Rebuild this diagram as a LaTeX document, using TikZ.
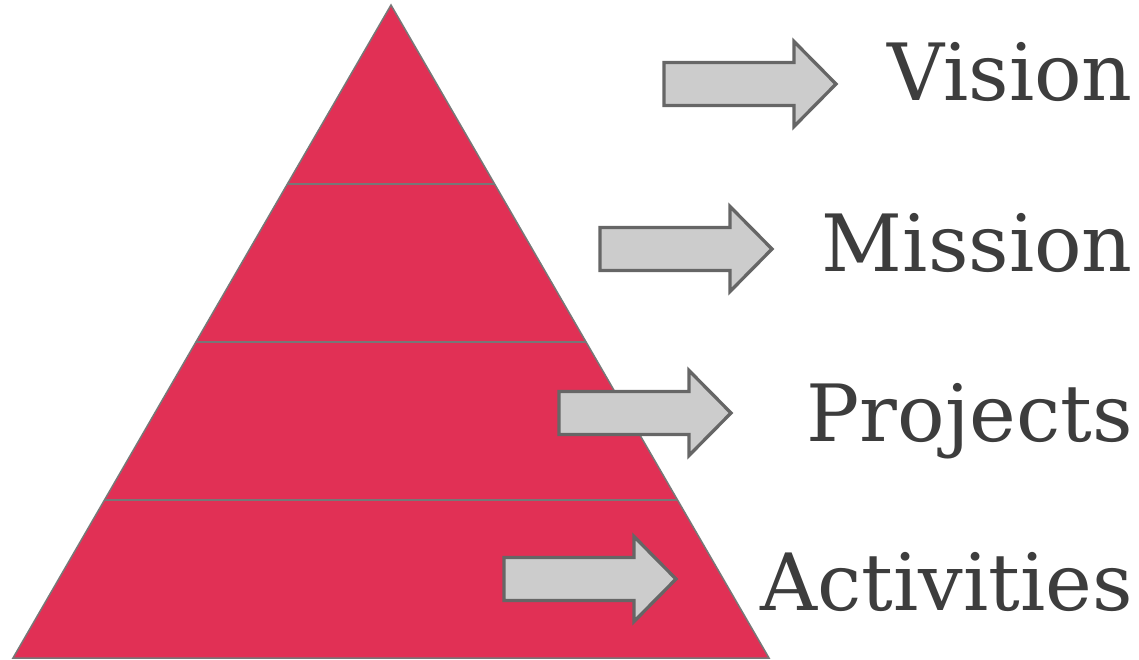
\documentclass[tikz,border=0pt]{standalone}
\usepackage{fontspec}
\setmainfont{DejaVu Serif}
\usetikzlibrary{calc}

\definecolor{pyramidred}{HTML}{E13055}
\definecolor{edgegray}{HTML}{777777}
\definecolor{arrowfill}{HTML}{CCCCCC}
\definecolor{arrowline}{HTML}{666666}
\definecolor{textgray}{HTML}{3D3D3D}

\tikzset{
  tierline/.style={draw=edgegray, line width=1.5pt},
  tierlabel/.style={anchor=base east, inner sep=0pt, text=textgray,
    font=\fontsize{79}{90}\selectfont},
  grayarrow/.pic={
    \draw[fill=arrowfill, draw=arrowline, line width=3.3pt, line join=miter]
      (0,-21.5) -- (130,-21.5) -- (130,-42.5) -- (172,0)
      -- (130,42.5) -- (130,21.5) -- (0,21.5) -- cycle;
  }
}

\begin{document}
\begin{tikzpicture}[x=1pt, y=-1pt]
    \useasboundingbox (0,0) rectangle (1139,660);

    % pyramid
    \coordinate (apex) at (391,5);
    \coordinate (bl) at (13,658);
    \coordinate (br) at (769,658);
    \fill[pyramidred] (apex) -- (bl) -- (br) -- cycle;

    \foreach \t [count=\i] in {0.2741, 0.5161, 0.7580} {
        \coordinate (l\i) at ($(apex)!\t!(bl)$);
        \coordinate (r\i) at ($(apex)!\t!(br)$);
        \draw[tierline] (l\i) -- (r\i);
    }
    \draw[tierline, line join=miter] (apex) -- (bl) -- (br) -- cycle;

    % arrows
    \pic at (664,84) {grayarrow};
    \pic at (600,249) {grayarrow};
    \pic at (559,413) {grayarrow};
    \pic at (504,579) {grayarrow};

    % labels
    \node[tierlabel] (vision) at (1133,101) {Vision};
    \node[tierlabel] (mission) at (1133,271) {Mission};
    \node[tierlabel] (projects) at (1133,441) {Projects};
    \node[tierlabel] (activities) at (1133,610) {Activities};
\end{tikzpicture}
\end{document}
